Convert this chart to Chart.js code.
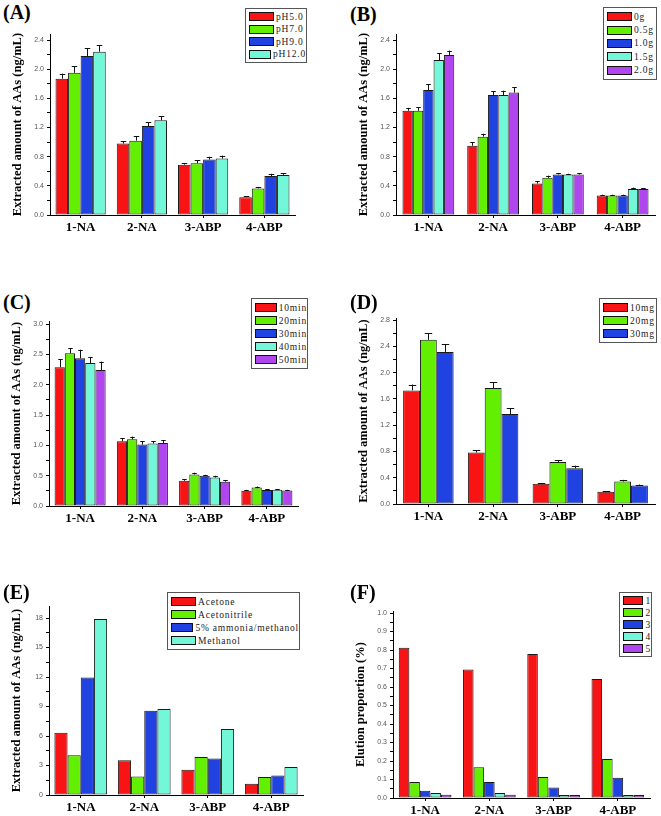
<!DOCTYPE html>
<html lang="en">

<head>
    <meta charset="UTF-8">
    <title>Extraction of AAs - panels A-F</title>
    <script src="https://cdn.jsdelivr.net/npm/chart.js"></script>
    <style>
        body {
            margin: 0;
            background: #fff;
        }

        #page {
            position: relative;
            width: 661px;
            height: 816px;
            overflow: hidden;
        }

        canvas {
            position: absolute;
        }

        .tag {
            position: absolute;
            font-family: "Liberation Serif", serif;
            font-weight: bold;
            font-size: 20px;
            color: #000;
        }

        .legend {
            position: absolute;
            box-sizing: border-box;
            border: 1px solid #555;
            background: #fff;
            display: flex;
            flex-direction: column;
            justify-content: space-evenly;
        }

        .legend .row {
            display: flex;
            align-items: center;
            height: 9px;
            font-family: "Liberation Serif", serif;
            font-size: 9.5px;
            letter-spacing: 0.8px;
            color: #222;
            white-space: nowrap;
        }

        .legend .sw {
            box-sizing: border-box;
            width: 25px;
            height: 9px;
            margin: 0 2px 0 3px;
            border: 1px solid #111;
        }
    </style>
</head>

<body>
    <div id="page"></div>

    <script>
        // categories shared by all panels
        const categories = ["1-NA", "2-NA", "3-ABP", "4-ABP"];
        const colors = ["#f81414", "#62f000", "#2042e0", "#72f7d8", "#b046ee"];

        // (A) pH
        const aSeries = ["pH5.0", "pH7.0", "pH9.0", "pH12.0"];
        const aValues = [
            [1.87, 0.98, 0.69, 0.245],
            [1.95, 1.02, 0.71, 0.365],
            [2.18, 1.22, 0.76, 0.535],
            [2.24, 1.30, 0.775, 0.55]
        ];
        const aErrors = [
            [0.07, 0.03, 0.02, 0.015],
            [0.09, 0.06, 0.045, 0.02],
            [0.11, 0.055, 0.04, 0.03],
            [0.085, 0.055, 0.04, 0.02]
        ];

        // (B) salt amount
        const bSeries = ["0g", "0.5g", "1.0g", "1.5g", "2.0g"];
        const bValues = [
            [1.43, 0.95, 0.432, 0.268],
            [1.43, 1.075, 0.51, 0.268],
            [1.715, 1.645, 0.555, 0.268],
            [2.125, 1.645, 0.555, 0.355],
            [2.195, 1.68, 0.555, 0.358]
        ];
        const bErrors = [
            [0.04, 0.05, 0.03, 0.01],
            [0.05, 0.04, 0.03, 0.01],
            [0.08, 0.05, 0.02, 0.01],
            [0.095, 0.06, 0.01, 0.02],
            [0.06, 0.07, 0.02, 0.01]
        ];

        // (C) extraction time
        const cSeries = ["10min", "20min", "30min", "40min", "50min"];
        const cValues = [
            [2.29, 1.067, 0.416, 0.252],
            [2.52, 1.10, 0.52, 0.306],
            [2.44, 1.013, 0.50, 0.263],
            [2.36, 1.03, 0.47, 0.268],
            [2.244, 1.04, 0.40, 0.257]
        ];
        const cErrors = [
            [0.13, 0.055, 0.03, 0.015],
            [0.08, 0.045, 0.03, 0.015],
            [0.14, 0.055, 0.015, 0.015],
            [0.10, 0.04, 0.03, 0.01],
            [0.14, 0.05, 0.03, 0.01]
        ];

        // (D) sorbent amount
        const dSeries = ["10mg", "20mg", "30mg"];
        const dValues = [
            [1.73, 0.785, 0.307, 0.186],
            [2.50, 1.767, 0.64, 0.342],
            [2.316, 1.37, 0.544, 0.282]
        ];
        const dErrors = [
            [0.09, 0.03, 0.01, 0.01],
            [0.10, 0.085, 0.025, 0.025],
            [0.115, 0.085, 0.04, 0.015]
        ];

        // (E) elution solvent
        const eSeries = ["Acetone", "Acetonitrile", "5% ammonia/methanol", "Methanol"];
        const eValues = [
            [6.33, 3.53, 2.56, 1.14],
            [4.04, 1.88, 3.87, 1.82],
            [11.94, 8.58, 3.70, 1.99],
            [17.9, 8.75, 6.70, 2.86]
        ];

        // (F) elution proportion
        const fSeries = ["1", "2", "3", "4", "5"];
        const fValues = [
            [0.8125, 0.695, 0.779, 0.643],
            [0.086, 0.166, 0.114, 0.211],
            [0.039, 0.086, 0.057, 0.109],
            [0.027, 0.027, 0.016, 0.016],
            [0.018, 0.018, 0.016, 0.016]
        ];

        const amountTitle = "Extracted amount of AAs (ng/mL)";

        // error bars drawn from the y scale
        const errorBars = {
            id: "errorBars",
            afterDatasetsDraw(chart) {
                const ctx = chart.ctx;
                const y = chart.scales.y;
                ctx.save();
                ctx.strokeStyle = "#111";
                ctx.lineWidth = 1;
                chart.data.datasets.forEach((ds, i) => {
                    if (!ds.errors) return;
                    chart.getDatasetMeta(i).data.forEach((bar, j) => {
                        const top = y.getPixelForValue(ds.data[j] + ds.errors[j]);
                        const half = bar.width * 0.22;
                        const x = Math.round(bar.x) + 0.5;
                        ctx.beginPath();
                        ctx.moveTo(x, bar.y);
                        ctx.lineTo(x, top);
                        ctx.moveTo(x - half, Math.round(top) + 0.5);
                        ctx.lineTo(x + half, Math.round(top) + 0.5);
                        ctx.stroke();
                    });
                });
                ctx.restore();
            }
        };

        const page = document.getElementById("page");

        function makePanel(p) {
            // p.axL/axR/top/bot = plot area in page pixels
            const left = p.axL - 50, top = p.top - 6;
            const w = p.axR - left + 6, h = p.bot + 26 - top;
            const canvas = document.createElement("canvas");
            canvas.width = w;
            canvas.height = h;
            canvas.style.left = left + "px";
            canvas.style.top = top + "px";
            page.appendChild(canvas);

            const datasets = p.series.map((name, i) => ({
                label: name,
                data: p.values[i],
                errors: p.errors ? p.errors[i] : null,
                backgroundColor: colors[i],
                borderColor: "#1a1a1a",
                borderWidth: 1,
                borderSkipped: false,
                barPercentage: 1.0,
                categoryPercentage: p.catPct
            }));

            new Chart(canvas, {
                type: "bar",
                data: { labels: categories, datasets: datasets },
                options: {
                    responsive: false,
                    animation: false,
                    devicePixelRatio: 1,
                    layout: { padding: { top: 6, right: 6, left: 0, bottom: 0 } },
                    plugins: { legend: { display: false }, tooltip: { enabled: false } },
                    scales: {
                        x: {
                            border: { display: true, color: "#000", width: 1 },
                            grid: { drawOnChartArea: false, offset: false, tickLength: 3, color: "#000" },
                            ticks: {
                                color: "#000",
                                padding: 2,
                                font: { family: "Liberation Serif", size: 13, weight: "bold" }
                            },
                            afterFit: s => { s.height = 26; }
                        },
                        y: {
                            min: 0,
                            max: p.max,
                            border: { display: true, color: "#000", width: 1 },
                            grid: { drawOnChartArea: false, tickLength: 3, color: "#000" },
                            ticks: {
                                stepSize: p.minor,
                                includeBounds: false,
                                autoSkip: false,
                                padding: 3,
                                color: "#555",
                                font: { family: "Liberation Sans", size: 7 },
                                callback: (v, i) => i % 2 ? "" : v.toFixed(p.dec)
                            },
                            title: {
                                display: true,
                                text: p.yTitle,
                                color: "#000",
                                font: { family: "Liberation Serif", size: 12.5, weight: "bold" },
                                padding: { top: 10, bottom: 0 }
                            },
                            afterFit: s => { s.width = 50; }
                        }
                    }
                },
                plugins: [errorBars]
            });

            // panel tag
            const tag = document.createElement("div");
            tag.className = "tag";
            tag.textContent = p.tag;
            tag.style.left = p.tagX + "px";
            tag.style.top = p.tagY + "px";
            page.appendChild(tag);

            // legend box
            const lg = document.createElement("div");
            lg.className = "legend";
            lg.style.left = p.lg[0] + "px";
            lg.style.top = p.lg[1] + "px";
            lg.style.width = p.lg[2] + "px";
            lg.style.height = p.lg[3] + "px";
            p.series.forEach((name, i) => {
                const row = document.createElement("div");
                row.className = "row";
                const sw = document.createElement("span");
                sw.className = "sw";
                sw.style.background = colors[i];
                row.appendChild(sw);
                row.appendChild(document.createTextNode(name));
                lg.appendChild(row);
            });
            page.appendChild(lg);
        }

        makePanel({
            tag: "(A)", tagX: 3, tagY: 1,
            series: aSeries, values: aValues, errors: aErrors,
            axL: 50, axR: 295, top: 33, bot: 215, max: 2.48, minor: 0.2, dec: 1,
            catPct: 0.82, yTitle: amountTitle, lg: [245, 8, 62, 55]
        });
        makePanel({
            tag: "(B)", tagX: 350, tagY: 3,
            series: bSeries, values: bValues, errors: bErrors,
            axL: 396, axR: 655, top: 33, bot: 215, max: 2.48, minor: 0.2, dec: 1,
            catPct: 0.8, yTitle: amountTitle, lg: [603, 7, 54, 73]
        });
        makePanel({
            tag: "(C)", tagX: 3, tagY: 291,
            series: cSeries, values: cValues, errors: cErrors,
            axL: 49, axR: 298, top: 320, bot: 506, max: 3.05, minor: 0.25, dec: 1,
            catPct: 0.82, yTitle: amountTitle, lg: [251, 298, 57, 71]
        });
        makePanel({
            tag: "(D)", tagX: 350, tagY: 291,
            series: dSeries, values: dValues, errors: dErrors,
            axL: 396, axR: 655, top: 317, bot: 504, max: 2.83, minor: 0.2, dec: 1,
            catPct: 0.78, yTitle: amountTitle, lg: [599, 298, 58, 45]
        });
        makePanel({
            tag: "(E)", tagX: 3, tagY: 581,
            series: eSeries, values: eValues, errors: null,
            axL: 49, axR: 303, top: 605, bot: 795, max: 19.2, minor: 1.5, dec: 0,
            catPct: 0.83, yTitle: amountTitle, lg: [167, 592, 133, 58]
        });
        makePanel({
            tag: "(F)", tagX: 350, tagY: 581,
            series: fSeries, values: fValues, errors: null,
            axL: 393, axR: 650, top: 610, bot: 798, max: 1.01, minor: 0.05, dec: 1,
            catPct: 0.82, yTitle: "Elution proportion (%)", lg: [619, 592, 33, 65]
        });
    </script>

</body>

</html>
